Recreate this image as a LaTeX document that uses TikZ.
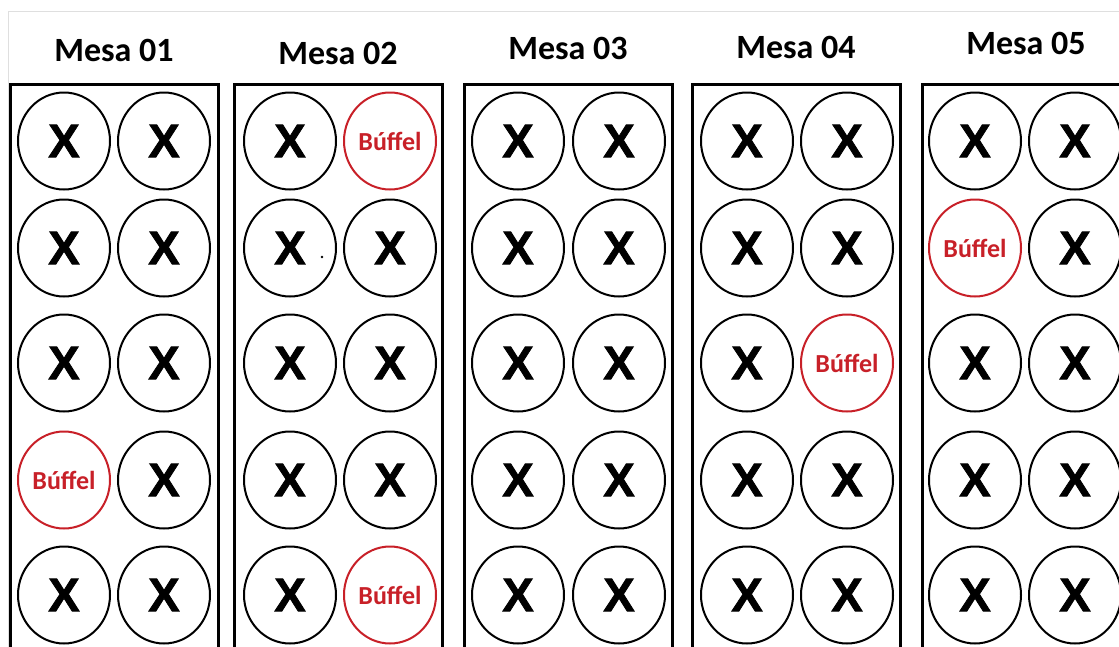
\documentclass[tikz,border=0pt]{standalone}
\usepackage{fontspec}
\setmainfont{Carlito}
\newfontfamily\xfont[FakeBold=1.6]{Liberation Sans Bold}
\usetikzlibrary{shapes.geometric}
\definecolor{buffelred}{RGB}{200,32,40}

\begin{document}
\begin{tikzpicture}[x=1pt,y=-1pt,
    mesa/.style={line width=3pt},
    titulo/.style={font=\fontsize{34}{40}\selectfont\bfseries},
    cadeira/.style={ellipse,draw,line width=2pt,minimum width=92pt,
        minimum height=97pt,inner sep=0pt,font=\xfont\fontsize{47}{50}\selectfont},
    buffel/.style={cadeira,draw=buffelred,text=buffelred,
        font=\fontsize{26}{30}\selectfont\bfseries}]
    \fill[white] (0,0) rectangle (1119,646);
    \clip (0,0) rectangle (1119,646);
    \draw[gray!25,line width=1pt] (8,700)--(8,11)--(1130,11);
        \begin{scope}[shift={(10,84)}]
        \draw[mesa] (0,0) rectangle (208,700);
        \node[titulo] (titulo1) at (104,-34) {Mesa 01};
    \foreach \r/\y in {1/57,2/164,3/279,5/511}{
        \node[cadeira] (m1a\r) at (54,\y) {X};
    }
    \foreach \r/\y in {1/57,2/164,3/279,4/396,5/511}{
        \node[cadeira] (m1b\r) at (154,\y) {X};
    }
        \node[buffel] (m1a4) at (54,396) {Búffel};
        \end{scope}
        \begin{scope}[shift={(234,84)}]
        \draw[mesa] (0,0) rectangle (208,700);
        \node[titulo] (titulo2) at (104,-31) {Mesa 02};
    \foreach \r/\y in {1/57,2/164,3/279,4/396,5/511}{
        \node[cadeira] (m2a\r) at (56,\y) {X};
    }
    \foreach \r/\y in {2/164,3/279,4/396}{
        \node[cadeira] (m2b\r) at (156,\y) {X};
    }
        \node[buffel] (m2b1) at (156,57) {Búffel};
        \node[buffel] (m2b5) at (156,511) {Búffel};
        \fill (m2a2.center) ++(32,9) circle (1.3);
        \end{scope}
        \begin{scope}[shift={(464,84)}]
        \draw[mesa] (0,0) rectangle (208,700);
        \node[titulo] (titulo3) at (104,-36) {Mesa 03};
    \foreach \r/\y in {1/57,2/164,3/279,4/396,5/511}{
        \node[cadeira] (m3a\r) at (54,\y) {X};
        \node[cadeira] (m3b\r) at (155,\y) {X};
    }
        \end{scope}
        \begin{scope}[shift={(692,84)}]
        \draw[mesa] (0,0) rectangle (208,700);
        \node[titulo] (titulo4) at (104,-37) {Mesa 04};
    \foreach \r/\y in {1/57,2/164,3/279,4/396,5/511}{
        \node[cadeira] (m4a\r) at (55,\y) {X};
    }
    \foreach \r/\y in {1/57,2/164,4/396,5/511}{
        \node[cadeira] (m4b\r) at (155,\y) {X};
    }
        \node[buffel] (m4b3) at (155,279) {Búffel};
        \end{scope}
        \begin{scope}[shift={(922,84)}]
        \draw[mesa] (0,0) rectangle (208,700);
        \node[titulo] (titulo5) at (104,-41) {Mesa 05};
    \foreach \r/\y in {1/57,3/279,4/396,5/511}{
        \node[cadeira] (m5a\r) at (53,\y) {X};
    }
    \foreach \r/\y in {1/57,2/164,3/279,4/396,5/511}{
        \node[cadeira] (m5b\r) at (153,\y) {X};
    }
        \node[buffel] (m5a2) at (53,164) {Búffel};
        \end{scope}
\end{tikzpicture}
\end{document}
